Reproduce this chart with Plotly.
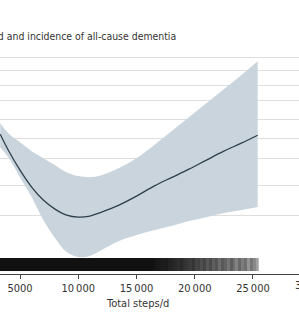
import plotly.graph_objects as go

# ---- data ----
steps = [3300, 4000, 5000, 6000, 7000, 8000, 9000, 10000, 11000, 12000, 13500,
         15000, 16500, 18000, 19500, 21000, 22500, 24000, 25400]
hr = [1.032, 0.914, 0.767, 0.642, 0.546, 0.479, 0.435, 0.420, 0.428, 0.457, 0.509,
      0.575, 0.649, 0.712, 0.774, 0.841, 0.907, 0.966, 1.025]
hr_upper = [1.114, 1.040, 0.973, 0.907, 0.855, 0.804, 0.752, 0.723, 0.715, 0.730, 0.782,
            0.855, 0.951, 1.055, 1.158, 1.261, 1.364, 1.468, 1.571]
hr_lower = [0.937, 0.863, 0.715, 0.568, 0.398, 0.265, 0.162, 0.125, 0.133, 0.177, 0.243,
            0.288, 0.324, 0.354, 0.391, 0.420, 0.450, 0.472, 0.494]

# distribution rug (darkness per 250-step bin, 3000..25500)
rug_start, rug_bin = 3000, 250
rug_density = ([1.0] * 54 +
               [0.98, 0.97, 0.96, 0.95, 0.96, 0.93, 0.92, 0.90, 0.88, 0.9, 0.86, 0.84,
                0.82, 0.85, 0.78, 0.8, 0.74, 0.78, 0.7, 0.76, 0.68, 0.72, 0.62, 0.7,
                0.66, 0.58, 0.68, 0.6, 0.52, 0.64, 0.55, 0.6, 0.45, 0.58, 0.5, 0.4])
rug_edges = [rug_start + i * rug_bin for i in range(len(rug_density) + 1)]
rug_y = [0.022, 0.118]

x_ticks = [5000, 10000, 15000, 20000, 25000]
x_ticktext = ["5000", "10\u2009000", "15\u2009000", "20\u2009000", "25\u2009000"]
y_grid = [0.435, 0.65, 0.85, 1.0, 1.14, 1.28, 1.39, 1.5, 1.6]

title_text = "Total steps/d and incidence of all-cause dementia"
x_title = "Total steps/d"

FONT = "Liberation Sans Narrow, DejaVu Sans Condensed, Arial Narrow, Roboto, sans-serif"
TXT = "#333333"

fig = go.Figure()

# confidence band
fig.add_trace(go.Scatter(x=steps, y=hr_upper, mode="lines", line=dict(width=0, shape="spline"),
                         hoverinfo="skip", showlegend=False))
fig.add_trace(go.Scatter(x=steps, y=hr_lower, mode="lines", line=dict(width=0, shape="spline"),
                         fill="tonexty", fillcolor="#c9d4dc", hoverinfo="skip", showlegend=False))
# estimate
fig.add_trace(go.Scatter(x=steps, y=hr, mode="lines",
                         line=dict(color="#2e3f4c", width=1.3, shape="spline"), showlegend=False))
# rug
fig.add_trace(go.Heatmap(x=rug_edges, y=rug_y, z=[rug_density], zmin=0, zmax=1,
                         colorscale=[[0, "#ffffff"], [1, "#111111"]], showscale=False,
                         hoverinfo="skip"))

fig.update_layout(
    width=299, height=315,
    margin=dict(l=0, r=0, t=56, b=41),
    paper_bgcolor="white", plot_bgcolor="white",
    font=dict(family=FONT, size=11, color=TXT),
    showlegend=False,
    xaxis=dict(range=[3283, 28950], tickvals=x_ticks, ticktext=x_ticktext,
               showgrid=False, zeroline=False, showline=True, linecolor="#444444", linewidth=1,
               ticks="outside", ticklen=4, tickcolor="#444444",
               tickfont=dict(family=FONT, size=11, color=TXT)),
    yaxis=dict(range=[0, 1.61], tickvals=y_grid, showticklabels=False, showgrid=True,
               gridcolor="#dedede", gridwidth=1, zeroline=False, showline=False, ticks=""),
    annotations=[
        dict(text=title_text, xref="paper", yref="paper", x=178 / 299, y=1.09,
             xanchor="right", yanchor="middle", showarrow=False,
             font=dict(family=FONT, size=10.4, color=TXT)),
        dict(text=x_title, xref="paper", yref="paper", x=137 / 299, y=-0.134,
             xanchor="center", yanchor="middle", showarrow=False,
             font=dict(family=FONT, size=11, color=TXT)),
        dict(text="30\u2009000", xref="paper", yref="paper", x=311 / 299, y=-0.054,
             xanchor="center", yanchor="middle", showarrow=False,
             font=dict(family=FONT, size=11, color=TXT)),
    ],
)

fig.write_html("out.html")
